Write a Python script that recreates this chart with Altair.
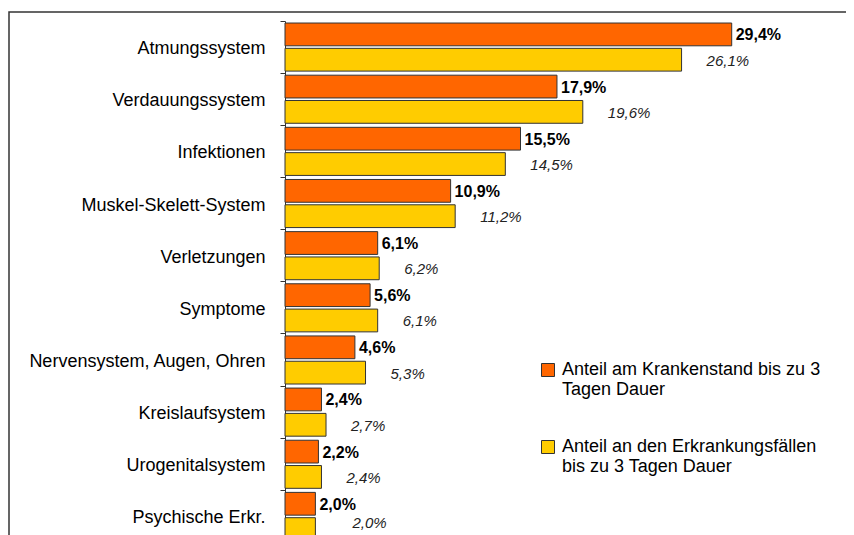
import altair as alt
import pandas as pd

categories = ["Atmungssystem", "Verdauungssystem", "Infektionen", "Muskel-Skelett-System",
              "Verletzungen", "Symptome", "Nervensystem, Augen, Ohren", "Kreislaufsystem",
              "Urogenitalsystem", "Psychische Erkr."]
series = ["Anteil am Krankenstand bis zu 3|Tagen Dauer",
          "Anteil an den Erkrankungsfällen|bis zu 3 Tagen Dauer"]
krankenstand = [29.4, 17.9, 15.5, 10.9, 6.1, 5.6, 4.6, 2.4, 2.2, 2.0]
faelle = [26.1, 19.6, 14.5, 11.2, 6.2, 6.1, 5.3, 2.7, 2.4, 2.0]
colors = ["#FF6600", "#FFCC00"]

rows = []
for c, a, b in zip(categories, krankenstand, faelle):
    rows.append({"cat": c, "series": series[0], "value": a,
                 "label": f"{a:.1f}%".replace(".", ",")})
    rows.append({"cat": c, "series": series[1], "value": b,
                 "label": f"{b:.1f}%".replace(".", ",")})
df = pd.DataFrame(rows)

FONT = "Liberation Sans"

y_enc = alt.Y("cat:N", sort=categories, title=None,
              scale=alt.Scale(range=[0, 521.5], paddingInner=0, paddingOuter=0),
              axis=alt.Axis(bandPosition=0, tickSize=5, labelPadding=15, labelFontSize=18,
                            labelFont=FONT, labelColor="#000", domainColor="#333",
                            tickColor="#333", labelLimit=0, grid=False, labelOffset=2))
yoff = alt.YOffset("series:N", sort=series,
                   scale=alt.Scale(paddingInner=0.1, paddingOuter=0.08))
x_enc = alt.X("value:Q", scale=alt.Scale(domain=[0, 36], nice=False, zero=True), axis=None)
y_txt = alt.Y("cat:N", sort=categories)

base = alt.Chart(df)

bars = base.mark_bar(stroke="#333", strokeWidth=1).encode(
    x=x_enc, y=y_enc, yOffset=yoff,
    color=alt.Color("series:N", sort=series,
                    scale=alt.Scale(domain=series, range=colors),
                    legend=alt.Legend(title=None, orient="none", legendX=254, legendY=340,
                                      symbolType="square", symbolSize=169,
                                      symbolStrokeColor="#333", symbolStrokeWidth=1,
                                      labelFontSize=18, labelFont=FONT, labelColor="#000",
                                      labelLimit=0, rowPadding=39, labelOffset=5,
                                      labelBaseline="middle",
                                      labelExpr="split(datum.label, '|')"))
)

t1 = base.transform_filter(alt.datum.series == series[0]).mark_text(
    align="left", baseline="middle", dx=4, dy=1, fontSize=16, fontWeight="bold",
    font=FONT, color="#000").encode(x=x_enc, y=y_txt, yOffset=yoff, text="label:N")

yellow = base.transform_filter(alt.datum.series == series[1])
t2 = yellow.transform_filter(alt.datum.cat != categories[-1]).mark_text(
    align="left", baseline="middle", dx=25, dy=1, fontSize=15, fontStyle="italic",
    font=FONT, color="#222").encode(x=x_enc, y=y_txt, yOffset=yoff, text="label:N")
t3 = yellow.transform_filter(alt.datum.cat == categories[-1]).mark_text(
    align="left", baseline="middle", dx=37, dy=-6, fontSize=15, fontStyle="italic",
    font=FONT, color="#222").encode(x=x_enc, y=y_txt, yOffset=yoff, text="label:N")

frame = alt.Chart(alt.Data(values=[{"a": 1}])).mark_rect(
    filled=False, stroke="#333", strokeWidth=1.5).encode(
    x=alt.value(-276), x2=alt.value(700), y=alt.value(-9), y2=alt.value(700))

chart = alt.layer(bars, t1, t2, t3, frame).properties(
    width=547, height=514,
    autosize=alt.AutoSizeParams(type="none"),
    padding={"left": 277, "top": 13, "right": 14, "bottom": 0}
).configure_view(stroke=None)

chart.save("out.html", embed_options={"renderer": "svg", "actions": False})
